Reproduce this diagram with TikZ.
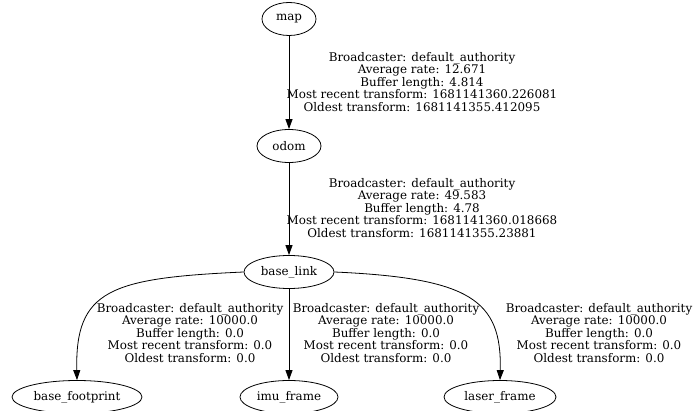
\documentclass[tikz,border=0pt]{standalone}
\usepackage{fontspec}
\setmainfont{DejaVu Serif}
\usetikzlibrary{shapes.geometric,arrows.meta}
\tikzset{
  frame/.style={draw, ellipse, line width=0.8pt, inner sep=0pt, minimum height=33pt, font=\fontsize{11.9}{12.5}\selectfont},
  lbl/.style={align=center, inner sep=0pt, font=\fontsize{11.9}{12.5}\selectfont},
  conn/.style={line width=0.8pt, -{Triangle[length=10pt,width=7pt]}}
}
\begin{document}
\begin{tikzpicture}[x=1pt,y=-1pt]
\useasboundingbox (0,0) rectangle (693,411);
\node[frame, minimum width=54pt] (map) at (289,19) {map};
\node[frame, minimum width=64pt] (odom) at (289,146) {odom};
\node[frame, minimum width=90pt] (base) at (289,272) {base\_link};
\node[frame, minimum width=130pt] (foot) at (77,397) {base\_footprint};
\node[frame, minimum width=98pt] (imu) at (289,397) {imu\_frame};
\node[frame, minimum width=112pt] (laser) at (500,397) {laser\_frame};

\node[lbl] (l1) at (422,82) {Broadcaster: default\_authority\\Average rate: 12.671\\Buffer length: 4.814\\Most recent transform: 1681141360.226081\\Oldest transform: 1681141355.412095};
\node[lbl] (l2) at (422,208) {Broadcaster: default\_authority\\Average rate: 49.583\\Buffer length: 4.78\\Most recent transform: 1681141360.018668\\Oldest transform: 1681141355.23881};
\node[lbl] (l3) at (190,333) {Broadcaster: default\_authority\\Average rate: 10000.0\\Buffer length: 0.0\\Most recent transform: 0.0\\Oldest transform: 0.0};
\node[lbl] (l4) at (386,333) {Broadcaster: default\_authority\\Average rate: 10000.0\\Buffer length: 0.0\\Most recent transform: 0.0\\Oldest transform: 0.0};
\node[lbl] (l5) at (599,333) {Broadcaster: default\_authority\\Average rate: 10000.0\\Buffer length: 0.0\\Most recent transform: 0.0\\Oldest transform: 0.0};

\draw[conn] (map) -- (odom);
\draw[conn] (odom) -- (base);
\draw[conn] (base) -- (imu);
\draw[conn] (base.west) .. controls (110,278) and (75,290) .. (foot.north);
\draw[conn] (base.east) .. controls (470,278) and (502,300) .. (laser.north);
\end{tikzpicture}
\end{document}
